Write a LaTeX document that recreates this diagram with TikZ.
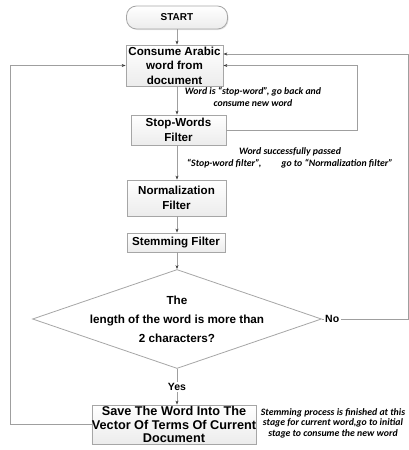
\documentclass[tikz,border=0pt]{standalone}
\usepackage{fontspec}
\setmainfont{Liberation Sans}
\newfontfamily\notefont{Carlito}
\usetikzlibrary{shapes.geometric,arrows.meta,shadows}

\begin{document}
\begin{tikzpicture}[x=1pt,y=-1pt,
	box/.style={draw=gray!70,line width=0.8pt,top color=white,bottom color=gray!15,
		drop shadow={opacity=0.2,shadow xshift=1pt,shadow yshift=-1pt},
		align=center,inner sep=0pt,font=\fontsize{11.6}{14.5}\selectfont\bfseries},
	decision/.style={diamond,draw=gray!70,line width=0.8pt,fill=white,
		minimum width=289pt,minimum height=99pt,inner sep=0pt},
	line/.style={draw=gray!75,line width=0.8pt,-{Stealth[length=4pt,width=3pt,black!75]}},
	lbl/.style={fill=white,inner sep=1.5pt,font=\fontsize{10.5}{12}\selectfont\bfseries},
	note/.style={align=center,inner sep=0pt,font=\notefont\fontsize{9.8}{12}\selectfont\bfseries\itshape}]
	\useasboundingbox (0,0) rectangle (409,450);
	%boxes
	\node [box,rounded corners=10pt,minimum width=101pt,minimum height=23pt,
		font=\fontsize{10}{12}\selectfont\bfseries] (start) at (177,17.5) {START};
	\node [box,minimum width=97pt,minimum height=41pt] (consume) at (174.5,65.5) {Consume Arabic\\word from\\document};
	\node [box,minimum width=95pt,minimum height=30pt] (stop) at (178.5,130) {Stop-Words\\Filter};
	\node [box,minimum width=99pt,minimum height=36pt] (norm) at (176.5,198) {Normalization\\Filter};
	\node [box,minimum width=98pt,minimum height=19pt] (stem) at (176,242.5) {Stemming Filter};
	%decision
	\node [decision] (check) at (177,319) {};
	\node [align=center,inner sep=0pt,font=\fontsize{11.7}{19}\selectfont\bfseries] (checktext) at (check)
		{The\\length of the word is more than\\2 characters?};
	\node [box,minimum width=164pt,minimum height=39pt,
		font=\fontsize{12.7}{13.6}\selectfont\bfseries] (save) at (174,424.5)
		{Save The Word Into The\\Vector Of Terms Of Current\\Document};
	%straight arrows
	\draw [line] (start.south) -- (start.south |- consume.north);
	\draw [line] (start.south |- consume.south) -- (start.south |- stop.north);
	\draw [line] (start.south |- stop.south) -- (start.south |- norm.north);
	\draw [line] (start.south |- norm.south) -- (start.south |- stem.north);
	\draw [line] (start.south |- stem.south) -- (check.north);
	\draw [line] (check.south) -- node [lbl] (yes) {Yes} (check.south |- save.north);
	%loops back
	\draw [line] (save.west) -- ++(-81,0) |- (consume.west);
	\draw [line] (stop.east) -- ++(131,0) |- (consume.east);
	\draw [line] (check.east) -- node [lbl,pos=0.12] (no) {No} ++(86,0) |- ([yshift=11.5pt]consume.east);
	%notes
	\node [note] (note1) at (253,97) {Word is “stop-word”, go back and\\consume new word};
	\node [note] (note2) at (290,158) {Word successfully passed\\“Stop-word filter”,\hspace{20pt}go to “Normalization filter”};
	\node [note,font=\notefont\fontsize{9.8}{10.5}\selectfont\bfseries\itshape] (note3) at (333,423)
		{Stemming process is finished at this\\stage for current word,go to initial\\stage to consume the new word};
\end{tikzpicture}
\end{document}
